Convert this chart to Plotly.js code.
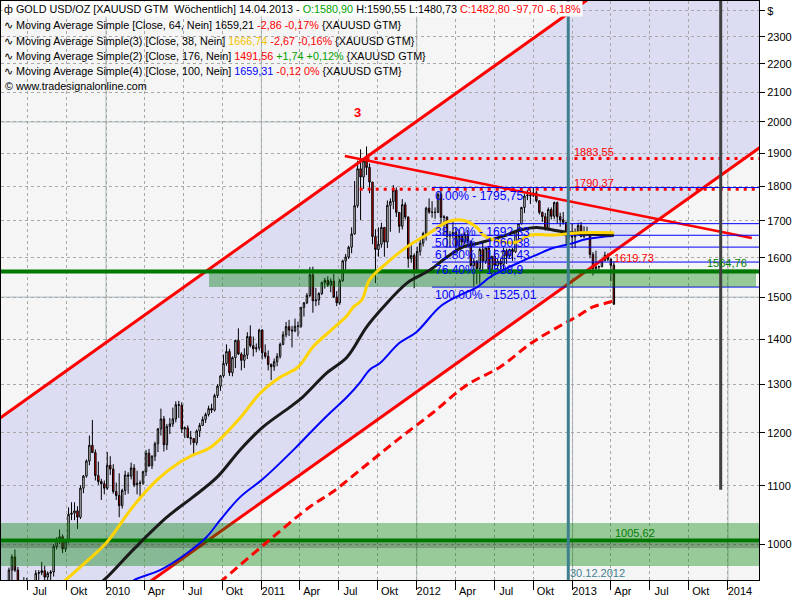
<!DOCTYPE html>
<html><head><meta charset="utf-8">
<script src="https://cdn.plot.ly/plotly-3.0.1.min.js"></script>
<style>html,body{margin:0;padding:0;background:#fff}#chart{width:800px;height:600px}</style>
</head><body><div id="chart"></div>
<script>
// ---- weekly candles (week start Monday), first week 2009-04-27 ----
const firstWeek = '2009-04-27';
const opens = [
912,884,914,931,958,979,958,937,934,940,930,912,937,953,954,957,947,953,955,996,1006,1012,992,1004,1050,1052,1056,1045,1096,1118,1146,1176,1162,1119,1108,1104,
1096,1138,1131,1090,1083,1065,1092,1120,1118,1133,1102,1105,1105,1126,1161,1137,1155,1179,1208,1228,1177,1213,1218,1228,1257,1256,1208,1210,1191,1189,1181,1204,1215,1227,1237,1249,1246,1276,1296,1318,1345,1372,1325,1358,1397,1366,1352,1364,1406,1385,1378,1380,
1421,1369,1361,1343,1338,1349,1361,1388,1410,1429,1421,1419,1430,1430,1475,1486,1504,1556,1491,1493,1509,1536,1542,1530,1540,1500,1486,1541,1592,1602,1628,1664,1743,1852,1827,1876,1856,1812,1657,1622,1636,1682,1642,1744,1755,1788,1724,1685,1746,1711,1598,1606,
1566,1617,1639,1665,1736,1725,1724,1724,1776,1710,1711,1658,1662,1668,1631,1660,1642,1663,1644,1580,1591,1572,1622,1591,1626,1570,1604,1580,1591,1583,1619,1605,1622,1616,1671,1692,1738,1771,1773,1772,1780,1757,1724,1712,1677,1732,1713,1752,1712,1703,1696,1659,1657,
1656,1662,1687,1657,1667,1667,1609,1572,1576,1577,1592,1607,1596,1580.90];
const highs = [
918,918,934,962,983,991,963,942,947,946,934,940,958,958,971,965,956,958,1000,1011,1024,1016,1008,1062,1071,1071,1064,1101,1120,1149,1195,1226,1168,1145,1113,1110,
1163,1155,1140,1106,1123,1095,1128,1125,1143,1140,1128,1110,1128,1167,1169,1157,1183,1210,1249,1234,1218,1230,1251,1264,1265,1262,1213,1215,1204,1190,1207,1220,1233,1241,1255,1259,1280,1300,1320,1365,1388,1378,1361,1398,1425,1370,1379,1416,1432,1406,1390,1424,
1423,1388,1374,1345,1356,1368,1392,1418,1440,1445,1431,1448,1441,1476,1488,1510,1576,1577,1523,1512,1539,1548,1552,1547,1558,1515,1545,1595,1610,1632,1682,1815,1877,1912,1882,1921,1868,1812,1677,1682,1695,1682,1758,1764,1803,1796,1725,1762,1753,1712,1640,1612,
1630,1650,1670,1740,1764,1756,1738,1781,1792,1716,1712,1672,1697,1680,1677,1665,1669,1675,1646,1597,1594,1627,1640,1628,1628,1605,1624,1597,1598,1627,1624,1624,1626,1675,1692,1740,1778,1788,1788,1796,1786,1758,1726,1722,1738,1738,1755,1755,1723,1725,1697,1665,1693,
1679,1695,1697,1685,1684,1672,1615,1619,1580,1597,1616,1612,1600,1590.55];
const lows = [
881,880,910,924,941,955,930,922,920,925,905,909,935,928,950,936,932,937,948,991,1000,985,987,1001,1040,1040,1025,1042,1087,1115,1138,1165,1110,1102,1075,1085,
1093,1120,1086,1075,1045,1060,1084,1086,1112,1098,1085,1076,1102,1118,1135,1131,1146,1163,1195,1164,1167,1198,1212,1221,1230,1200,1190,1190,1177,1157,1176,1192,1215,1220,1233,1240,1243,1271,1286,1314,1340,1318,1317,1335,1364,1330,1335,1355,1381,1361,1370,1374,
1354,1356,1330,1309,1329,1339,1356,1386,1404,1407,1381,1416,1406,1426,1453,1483,1500,1462,1478,1480,1505,1521,1525,1512,1498,1478,1481,1538,1570,1597,1612,1662,1737,1702,1792,1833,1779,1636,1535,1603,1627,1603,1626,1670,1733,1711,1667,1676,1704,1574,1587,1522,
1562,1606,1630,1646,1720,1709,1706,1722,1690,1660,1627,1627,1651,1612,1628,1626,1636,1633,1577,1527,1532,1533,1565,1584,1562,1548,1575,1564,1566,1570,1584,1600,1592,1613,1650,1690,1722,1759,1748,1768,1752,1718,1697,1673,1673,1704,1705,1692,1684,1690,1635,1650,1626,
1626,1660,1655,1652,1660,1599,1554,1565,1562,1575,1592,1591,1539,1480.73];
const closes = [
884,914,931,958,979,958,937,934,940,930,912,937,953,954,957,947,953,955,996,1006,1012,992,1004,1050,1052,1056,1045,1096,1118,1146,1176,1162,1119,1108,1104,1096,
1138,1131,1090,1083,1065,1092,1120,1118,1133,1102,1105,1105,1126,1161,1137,1155,1179,1208,1228,1177,1213,1218,1228,1257,1256,1208,1210,1191,1189,1181,1204,1215,1227,1237,1249,1246,1276,1296,1318,1345,1372,1325,1358,1397,1366,1352,1364,1406,1385,1378,1380,1421,
1369,1361,1343,1338,1349,1361,1388,1410,1429,1421,1419,1430,1430,1475,1486,1504,1556,1491,1493,1509,1536,1542,1530,1540,1500,1486,1541,1592,1602,1628,1664,1743,1852,1827,1876,1856,1812,1657,1622,1636,1682,1642,1744,1755,1788,1724,1685,1746,1711,1598,1606,1566,
1617,1639,1665,1736,1725,1724,1724,1776,1710,1711,1658,1662,1668,1631,1660,1642,1663,1644,1580,1591,1572,1622,1591,1626,1570,1604,1580,1591,1583,1619,1605,1622,1616,1671,1692,1738,1771,1773,1772,1780,1757,1724,1712,1677,1732,1713,1752,1712,1703,1696,1659,1657,1656,
1662,1687,1657,1667,1667,1609,1572,1576,1577,1592,1607,1596,1580.5,1482.80];

// ---- moving averages ----
const ma38Dates = ['2009-09-14','2009-10-04','2009-11-15','2010-01-03','2010-03-05','2010-05-01','2010-06-24','2010-07-24','2010-09-04','2010-11-12','2010-12-29','2011-02-14','2011-03-28','2011-05-02','2011-06-14','2011-07-21','2011-08-05','2011-08-25','2011-09-12','2011-10-23','2011-12-09','2012-02-01','2012-03-12','2012-04-19','2012-05-22','2012-06-05','2012-07-22','2012-08-23','2012-09-23','2012-11-16','2013-01-18','2013-04-08'];
const ma38Vals = [935,946,971,1003,1063,1111,1144,1157,1172,1230,1281,1315,1337,1382,1421,1455,1476,1493,1543,1587,1629,1667,1697,1702,1681,1661,1642,1642,1661,1661,1667,1667];
const ma64Dates = ['2009-12-01','2009-12-28','2010-03-05','2010-05-24','2010-07-24','2010-09-19','2010-11-12','2011-01-05','2011-03-09','2011-04-08','2011-06-03','2011-07-21','2011-09-05','2011-10-13','2011-12-09','2012-02-01','2012-03-12','2012-04-19','2012-05-29','2012-07-22','2012-08-31','2012-10-09','2012-11-16','2012-12-26','2013-04-08'];
const ma64Vals = [930,943,990,1045,1080,1116,1167,1212,1252,1273,1324,1359,1428,1474,1535,1568,1602,1629,1640,1658,1675,1682,1675,1667,1661];
const ma100Dates = ['2010-02-15','2010-03-10','2010-05-08','2010-07-10','2010-08-26','2010-09-26','2010-11-12','2011-01-05','2011-03-21','2011-05-02','2011-06-11','2011-07-21','2011-08-20','2011-09-12','2011-10-07','2011-11-21','2011-12-31','2012-02-24','2012-04-04','2012-05-22','2012-06-21','2012-07-22','2012-08-31','2012-10-09','2012-11-16','2012-12-26','2013-02-04','2013-04-08'];
const ma100Vals = [930,943,958,985,1012,1040,1080,1113,1170,1206,1240,1273,1303,1331,1346,1391,1416,1476,1501,1525,1550,1568,1589,1608,1626,1637,1650,1659];
const ma176Dates = ['2010-09-01','2010-10-03','2011-01-14','2011-04-25','2011-06-17','2011-09-05','2011-11-22','2012-02-07','2012-04-27','2012-07-14','2012-09-29','2012-12-19','2013-01-18','2013-02-18','2013-03-30','2013-04-08'];
const ma176Vals = [925,943,1003,1063,1089,1139,1190,1240,1298,1337,1393,1440,1457,1476,1488,1491.56];

// ---- drawn lines / levels ----
const channelDates = ['2008-09-04','2015-02-09'];
const channelUpper = [1094, 3523];
const channelLower = [701.7, 2259];
const trendDates = ['2011-07-16','2014-02-26'];
const trendVals = [1891, 1653];
const dotLevels = [1883.55, 1790.37];
const dotStarts = ['2011-09-05','2011-08-20'];
const fibLevels = [1795.75, 1692.33, 1660.38, 1628.43, 1588.9, 1525.01];
const fibLabels = ['0.00% - 1795,75','38.20% - 1692,33','50.00% - 1660,38','61.80% - 1628,43','76.40% - 1588,9','100.00% - 1525,01'];
const fibStart = '2012-02-06';
const zoneUpper = [1525, 1571];
const zoneUpperDates = ['2010-08-31','2014-03-08'];
const zoneLower = [964.5, 1035];
const supportLevels = [1564.76, 1005.62];
const xTickVals = ['2009-07-01','2009-10-01','2010-01-01','2010-04-01','2010-07-01','2010-10-01','2011-01-01','2011-04-01','2011-07-01','2011-10-01','2012-01-01','2012-04-01','2012-07-01','2012-10-01','2013-01-01','2013-04-01','2013-07-01','2013-10-01','2014-01-01'];
const xTickText = ['Jul','Okt','2010','Apr','Jul','Okt','2011','Apr','Jul','Okt','2012','Apr','Jul','Okt','2013','Apr','Jul','Okt','2014'];
const yTickVals = [1000,1100,1200,1300,1400,1500,1600,1700,1800,1900,2000,2100,2200,2300,2400];
const yTickText = ['1000','1100','1200','1300','1400','1500','1600','1700','1800','1900','2000','2100','2200','2300','$'];
const yearLines = ['2010-01-01','2011-01-01','2012-01-01','2013-01-01','2014-01-01'];

const dates = [];
{ const t0 = Date.parse(firstWeek + 'T00:00:00Z'); for (let i = 0; i < closes.length; i++) dates.push(new Date(t0 + i * 7 * 864e5).toISOString().slice(0, 10)); }

const FONT = 'Liberation Sans, Arial, sans-serif';
const XL = '2008-01-01', XR = '2015-06-01';
const px = x => (x - 1) / 758, py = y => 1 - (y - 1) / 579;
const L10 = Math.log10;

const traces = [];
function line(x, y, color, width, dash) {
  traces.push({type:'scatter', mode:'lines', x:x, y:y, line:{color:color, width:width, dash:dash||'solid'}, hoverinfo:'skip', showlegend:false});
}
line(channelDates, channelUpper, '#ff0000', 3);
line(channelDates, channelLower, '#ff0000', 3);
line(trendDates, trendVals, '#ff0000', 2.5);
dotLevels.forEach((v, i) => line([dotStarts[i], XR], [v, v], '#ff0000', 3, '3px,5px'));
fibLevels.forEach(v => line([fibStart, XR], [v, v], '#0000ff', 1));
traces.push({type:'candlestick', x:dates, open:opens, high:highs, low:lows, close:closes,
  increasing:{line:{color:'#000000', width:1}, fillcolor:'#ffffff'},
  decreasing:{line:{color:'#000000', width:1}, fillcolor:'#ff0000'},
  whiskerwidth:0, hoverinfo:'skip', showlegend:false});
function band(d0, d1, lo, hi, color) {
  traces.push({type:'scatter', mode:'lines', x:[d0,d1,d1,d0,d0], y:[lo,lo,hi,hi,lo], fill:'toself', fillcolor:color, line:{width:0, color:'rgba(0,0,0,0)'}, hoverinfo:'skip', showlegend:false});
}
band(zoneUpperDates[0], zoneUpperDates[1], zoneUpper[0], zoneUpper[1], 'rgba(0,128,0,0.38)');
band(XL, XR, zoneLower[0], zoneLower[1], 'rgba(0,128,0,0.38)');
band(XL, XR, 993.5, 1001.8, 'rgba(40,40,40,0.25)');
supportLevels.forEach(v => line([XL, XR], [v, v], '#007800', 4));
line(ma176Dates, ma176Vals, '#ff0000', 3, '9px,5px');
line(ma100Dates, ma100Vals, '#0000ff', 2);
line(ma64Dates, ma64Vals, '#1a1a1a', 3);
line(ma38Dates, ma38Vals, '#ffd400', 3);
traces.forEach(t => { if (t.type === 'scatter') t.line.shape = (t.x.length > 5 && !t.fill) ? 'spline' : 'linear'; });

const shapes = [];
shapes.push({type:'path', xref:'x', yref:'y', layer:'below',
  path:'M' + Date.parse(channelDates[0]) + ',' + channelUpper[0] + 'L' + Date.parse(channelDates[1]) + ',' + channelUpper[1] +
       'L' + Date.parse(channelDates[1]) + ',' + channelLower[1] + 'L' + Date.parse(channelDates[0]) + ',' + channelLower[0] + 'Z',
  fillcolor:'#dcdcf2', line:{width:0}});
yearLines.forEach(d => shapes.push({type:'line', xref:'x', yref:'paper', x0:d, x1:d, y0:0, y1:1, layer:'below', line:{color:'#a8b8b8', width:1}}));
[1500, 2000].forEach(v => shapes.push({type:'line', xref:'paper', yref:'y', x0:0, x1:1, y0:v, y1:v, layer:'below', line:{color:'#a8b8c0', width:1}}));
shapes.push({type:'line', xref:'x', yref:'paper', x0:'2012-12-22', x1:'2012-12-22', y0:0, y1:1, layer:'above', line:{color:'#3f7f8f', width:3}});
shapes.push({type:'line', xref:'x', yref:'y', x0:'2013-12-15', x1:'2013-12-15', y0:1093, y1:2445, layer:'above', line:{color:'#404040', width:3}});

const ann = [];
const LF = 10.8;
function txt(o) { ann.push(Object.assign({showarrow:false, borderpad:0, font:{family:FONT, size:LF, color:'#000'}}, o)); }
const R = 'color:#ff0000', G = 'color:#00a000';
txt({xref:'paper', yref:'paper', x:px(2), y:py(9), xanchor:'left', yanchor:'middle', bgcolor:'#ffffff', borderpad:1,
  text:'ф GOLD USD/OZ [XAUUSD GTM \u00a0Wöchentlich] 14.04.2013 - <span style="'+G+'">O:1580,90</span> H:1590,55 L:1480,73 <span style="'+R+'">C:1482,80 -97,70 -6,18%</span>'});
txt({xref:'paper', yref:'paper', x:px(3), y:py(25), xanchor:'left', yanchor:'middle',
  text:'∿ Moving Average Simple [Close, 64, Nein] 1659,21 <span style="'+R+'">-2,86 -0,17%</span> {XAUUSD GTM}'});
txt({xref:'paper', yref:'paper', x:px(3), y:py(41), xanchor:'left', yanchor:'middle',
  text:'∿ Moving Average Simple(3) [Close, 38, Nein] <span style="color:#f5c400">1666,74</span> <span style="'+R+'">-2,67 -0,16%</span> {XAUUSD GTM}'});
txt({xref:'paper', yref:'paper', x:px(3), y:py(56), xanchor:'left', yanchor:'middle',
  text:'∿ Moving Average Simple(2) [Close, 176, Nein] <span style="'+R+'">1491,56</span> <span style="'+G+'">+1,74 +0,12%</span> {XAUUSD GTM}'});
txt({xref:'paper', yref:'paper', x:px(3), y:py(71), xanchor:'left', yanchor:'middle',
  text:'∿ Moving Average Simple(4) [Close, 100, Nein] <span style="color:#0000ff">1659,31</span> <span style="'+R+'">-0,12 0%</span> {XAUUSD GTM}'});
txt({xref:'paper', yref:'paper', x:px(4), y:py(86), xanchor:'left', yanchor:'middle', text:'© www.tradesignalonline.com'});
txt({xref:'paper', yref:'paper', x:px(357), y:py(113), xanchor:'center', yanchor:'middle', text:'<b>3</b>', font:{family:FONT, size:13, color:'#ff0000'}});
txt({xref:'x', yref:'y', x:'2013-01-01', y:L10(dotLevels[0]), xanchor:'left', yanchor:'bottom', yshift:-1, text:'1883,55', font:{family:FONT, size:11, color:'#ff0000'}});
txt({xref:'x', yref:'y', x:'2013-01-01', y:L10(dotLevels[1]), xanchor:'left', yanchor:'bottom', yshift:-1, text:'1790,37', font:{family:FONT, size:11, color:'#ff0000'}});
txt({xref:'x', yref:'y', x:'2013-04-06', y:L10(1619.73), xanchor:'left', yanchor:'top', yshift:-1, text:'1619.73', font:{family:FONT, size:11, color:'#ff0000'}});
txt({xref:'x', yref:'y', x:'2013-11-10', y:L10(supportLevels[0]), xanchor:'left', yanchor:'bottom', yshift:1, text:'1564,76', font:{family:FONT, size:11, color:'#008000'}});
txt({xref:'x', yref:'y', x:'2013-04-08', y:L10(supportLevels[1]), xanchor:'left', yanchor:'bottom', yshift:1, text:'1005,62', font:{family:FONT, size:11, color:'#008000'}});
txt({xref:'x', yref:'paper', x:'2012-12-24', y:py(573), xanchor:'left', yanchor:'middle', text:'30.12.2012', font:{family:FONT, size:11, color:'#3f7f8f'}});
fibLevels.forEach((v, i) => txt({xref:'x', yref:'y', x:'2012-02-11', y:L10(v), xanchor:'left', yanchor:'top', yshift:0, text:fibLabels[i], font:{family:FONT, size:12, color:'#0000ff'}}));

const layout = {
  width:800, height:600, margin:{l:1, r:41, t:1, b:20, pad:0},
  paper_bgcolor:'#ffffff', plot_bgcolor:'#f5f5f5', showlegend:false,
  font:{family:FONT, size:11, color:'#000'},
  xaxis:{type:'date', range:['2009-04-29 08:00','2014-03-15'], tickvals:xTickVals, ticktext:xTickText,
    showgrid:true, gridcolor:'#a8a8a8', griddash:'dot', gridwidth:1, ticks:'outside', ticklen:9, tickcolor:'#000',
    ticklabelshift:12, ticklabelstandoff:-8, showline:true, linecolor:'#000', linewidth:1, mirror:true, zeroline:false,
    rangeslider:{visible:false}, fixedrange:true, tickfont:{family:FONT, size:11, color:'#000'}},
  yaxis:{type:'log', range:[2.97432, 3.38730], side:'right', tickvals:yTickVals, ticktext:yTickText,
    showgrid:true, gridcolor:'#a8a8a8', griddash:'dot', gridwidth:1, ticks:'outside', ticklen:5, tickcolor:'#000',
    showline:true, linecolor:'#000', linewidth:1, mirror:true, zeroline:false, fixedrange:true,
    tickfont:{family:FONT, size:11, color:'#000'}},
  shapes:shapes, annotations:ann, hovermode:false
};
Plotly.newPlot('chart', traces, layout, {displayModeBar:false, staticPlot:true});
</script></body></html>
